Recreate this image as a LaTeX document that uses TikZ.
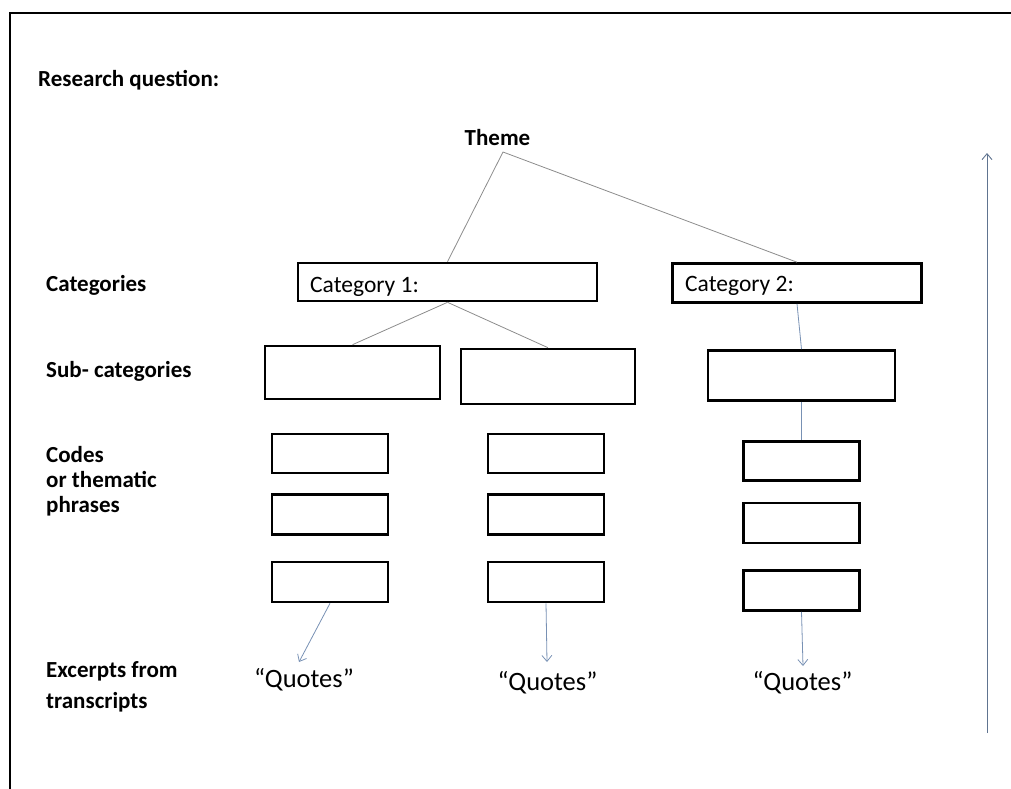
\documentclass[tikz,border=0pt]{standalone}
\usepackage{fontspec}
\setmainfont{Carlito}
\usetikzlibrary{arrows.meta}
\definecolor{linkgray}{RGB}{140,140,140}
\definecolor{linkblue}{RGB}{120,145,180}
\begin{document}
\begin{tikzpicture}[x=1pt,y=-1pt,
  lbl/.style={font=\fontsize{23}{25}\selectfont\bfseries, anchor=base west, inner sep=0pt, align=left},
  cattext/.style={font=\fontsize{23.5}{26}\selectfont, anchor=base west, inner sep=0pt},
  plainbox/.style={draw=black, line width=2.6pt, inner sep=0pt},
  link/.style={draw=linkgray, line width=0.8pt},
  blink/.style={draw=linkblue, line width=0.8pt},
  barrow/.style={draw=linkblue, line width=0.8pt, -{Straight Barb[length=6pt,width=10pt]}},
  quote/.style={font=\fontsize{26.5}{30}\selectfont, inner sep=0pt, anchor=base}]
  \useasboundingbox (0,0) rectangle (1011,789);
  % frame
  \draw[line width=2.2pt] (10,13) rectangle (1030,810);

  % row labels
  \node[lbl] (rq) at (38,87) {Research question:};
  \node[lbl] (lcat) at (46,291) {Categories};
  \node[lbl] (lsub) at (46,377) {Sub- categories};
  \node[lbl] (lcode1) at (46,462) {Codes};
  \node[lbl] (lcode2) at (46,487) {or thematic};
  \node[lbl] (lcode3) at (46,512) {phrases};
  \node[lbl] (lex1) at (46,677) {Excerpts from};
  \node[lbl] (lex2) at (46,708) {transcripts};

  % theme
  \node[font=\fontsize{23}{25}\selectfont\bfseries, inner sep=0pt, anchor=base] (theme) at (497.5,146) {Theme};
  \coordinate (apex) at (503,152);

  % categories
  \node[plainbox, minimum width=299pt, minimum height=38pt] (cat1) at (447.5,282) {};
  \node[cattext] (cat1t) at (310,292) {Category 1:};
  \node[plainbox, minimum width=249pt, minimum height=39pt] (cat2) at (797,283) {};
  \node[cattext] (cat2t) at (685,291) {Category 2:};

  % sub-categories
  \node[plainbox, minimum width=175pt, minimum height=53pt] (sub1) at (352.5,372.5) {};
  \node[plainbox, minimum width=174pt, minimum height=55pt] (sub2) at (548,376.5) {};
  \node[plainbox, minimum width=187pt, minimum height=50pt] (sub3) at (801.5,375.5) {};

  % codes
  \foreach \c/\x/\ya/\yb/\yc in {1/330/453.5/514.5/582, 2/546/453.5/514.5/582, 3/801.5/461/523/590.5} {
    \node[plainbox, minimum width=116pt, minimum height=39pt] (code\c a) at (\x,\ya) {};
    \node[plainbox, minimum width=116pt, minimum height=40pt] (code\c b) at (\x,\yb) {};
    \node[plainbox, minimum width=116pt, minimum height=40pt] (code\c c) at (\x,\yc) {};
  }

  % quotes
  \node[quote] (q1) at (304,687) {“Quotes”};
  \node[quote] (q2) at (547.5,690) {“Quotes”};
  \node[quote] (q3) at (802.5,690) {“Quotes”};

  % connectors
  \draw[link] (cat1.north) -- (apex) -- (cat2.north);
  \draw[link] (cat1.south) -- (sub1.north);
  \draw[link] (cat1.south) -- (sub2.north);
  \draw[blink] (cat2.south) -- (sub3.north);
  \draw[blink] (sub3.south) -- (code3a.north);
  \coordinate (e1) at (299,662);
  \coordinate (e2) at (547,662);
  \coordinate (e3) at (803,666);
  \draw[barrow] (code1c.south) -- (e1);
  \draw[barrow] (code2c.south) -- (e2);
  \draw[barrow] (code3c.south) -- (e3);

  % upward arrow on the right
  \coordinate (abot) at (987,733);
  \coordinate (atop) at (987,153);
  \draw[draw=linkblue!80!black, line width=0.9pt, -{Straight Barb[length=6pt,width=10pt]}] (abot) -- (atop);
\end{tikzpicture}
\end{document}
